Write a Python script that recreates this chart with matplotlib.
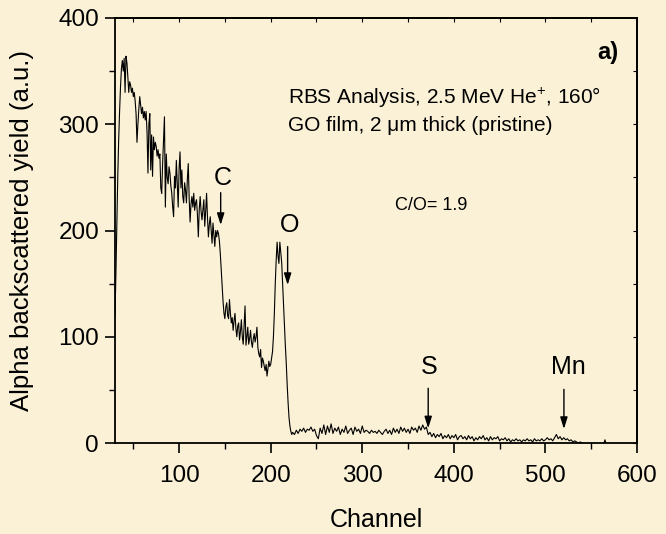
import numpy as np
import matplotlib
matplotlib.use("Agg")
import matplotlib.pyplot as plt
from matplotlib.ticker import MultipleLocator

plt.rcParams['font.family'] = ['Liberation Sans', 'DejaVu Sans']
plt.rcParams['mathtext.fontset'] = 'custom'
plt.rcParams['mathtext.rm'] = 'Liberation Sans'
plt.rcParams['mathtext.it'] = 'Liberation Sans:italic'
plt.rcParams['mathtext.bf'] = 'Liberation Sans:bold'

# ---- data: RBS spectrum (channel vs yield) ----
# channels 30..223, one value per channel
chan_low = list(range(30, 224))
yield_low = [
    120, 160, 205, 250, 285, 312, 335, 352, 360, 350,   # 30-39
    362, 330, 364, 358, 345, 330, 340, 337, 330, 334,   # 40-49
    326, 330, 322, 310, 283, 300, 314, 326, 318, 310,   # 50-59
    316, 306, 312, 304, 312, 292, 254, 300, 310, 257,   # 60-69
    290, 251, 288, 276, 283, 279, 270, 276, 268, 272,   # 70-79
    240, 235, 263, 284, 307, 222, 272, 250, 244, 260,   # 80-89
    254, 242, 235, 222, 213, 251, 240, 266, 244, 222,   # 90-99
    258, 274, 240, 257, 232, 226, 245, 238, 226, 248,   # 100-109
    263, 230, 208, 225, 232, 222, 235, 219, 226, 229,   # 110-119
    215, 194, 220, 232, 218, 210, 220, 229, 204, 218,   # 120-129
    235, 212, 194, 206, 213, 200, 188, 207, 196, 185,   # 130-139
    200, 194, 200, 197, 190, 178, 163, 147, 133, 122,   # 140-149
    117, 128, 132, 120, 117, 135, 122, 113, 118, 106,   # 150-159
    115, 122, 108, 100, 110, 113, 97, 105, 116, 100,    # 160-169
    93, 110, 129, 92, 100, 109, 93, 98, 106, 95,        # 170-179
    90, 98, 103, 95, 100, 109, 90, 84, 81, 88,          # 180-189
    71, 80, 77, 72, 68, 74, 63, 70, 77, 72,             # 190-199
    74, 80, 86, 100, 122, 150, 172, 189, 176, 169,      # 200-209
    189, 180, 170, 150, 128, 110, 92, 75, 55, 38,       # 210-219
    24, 16, 11, 8,                                      # 220-223
]
# channels 224..540, every second channel
chan_high = list(range(224, 541, 2))
yield_high = [
    10, 8, 12, 9, 13, 11, 14, 10, 13, 12,      # 224-242
    15, 11, 13, 7, 4, 14, 9, 17, 8, 16,        # 244-262
    10, 18, 9, 14, 11, 15, 8, 13, 10, 16,      # 264-282
    9, 12, 14, 8, 15, 11, 13, 9, 16, 10,       # 284-302
    12, 11, 9, 12, 10, 11, 9, 12, 10, 8,       # 304-322
    11, 13, 9, 12, 8, 14, 10, 13, 9, 15,       # 324-342
    11, 14, 10, 13, 9, 15, 12, 14, 10, 16,     # 344-362
    12, 17, 13, 15,                            # 364-370
    8, 10, 6, 9, 5, 8, 6, 9, 4, 7,             # 372-390
    5, 8, 4, 7, 5, 8, 3, 6, 7, 4,              # 392-410
    6, 3, 7, 4, 6, 2, 5, 3, 6, 4,              # 412-430
    7, 3, 5, 2, 6, 3, 5, 4, 6, 2,              # 432-450
    4, 3, 5, 2, 4, 1, 3, 2, 4, 2,              # 452-470
    3, 1, 3, 2, 4, 2, 3, 1, 4, 2,              # 472-490
    3, 2, 4, 2, 3, 5, 3, 4, 2, 5,              # 492-510
    8, 4, 6, 3, 5, 3, 4, 2, 3, 1,              # 512-530
    2, 1, 0, 1, 0,                             # 532-540
]
# isolated count near channel 565
chan_tail = [564, 565, 566]
yield_tail = [0, 3, 0]

# element markers: label, arrow channel, arrow top, arrow tip, label x, label y
elements = ["C", "O", "S", "Mn"]
elem_arrow_x = [145.4, 218.5, 372.0, 520.2]
elem_arrow_top = [235.6, 184.8, 51.5, 50.5]
elem_arrow_tip = [205.2, 148.7, 13.8, 13.2]
elem_label_x = [147.9, 221.1, 373.4, 524.7]
elem_label_y = [242.8, 198.9, 64.9, 64.9]

x_major = [100, 200, 300, 400, 500, 600]
y_major = [0, 100, 200, 300, 400]

bg = '#FAF1D7'
W, H = 666, 534
fig = plt.figure(figsize=(W / 100, H / 100), dpi=100, facecolor=bg)
ax = fig.add_axes([115 / W, 1 - 443 / H, 522 / W, 425 / H])
ax.set_facecolor(bg)

chan = np.array(chan_low + chan_high)
yld = np.array(yield_low + yield_high)
ax.plot(chan, yld, color='black', lw=0.8)
ax.plot(chan_tail, yield_tail, color='black', lw=0.8)

ax.set_xlim(30, 600)
ax.set_ylim(0, 400)
ax.set_xticks(x_major)
ax.set_yticks(y_major)
ax.xaxis.set_minor_locator(MultipleLocator(50))
ax.yaxis.set_minor_locator(MultipleLocator(50))
ax.tick_params(axis='both', which='major', direction='out', length=7, width=1.2,
               labelsize=17.5, colors='black')
ax.tick_params(axis='both', which='minor', direction='out', length=4, width=1.0)
ax.tick_params(axis='x', which='major', pad=8.5)
ax.tick_params(axis='y', which='major', pad=4.5)
for s in ax.spines.values():
    s.set_linewidth(1.3)

# mirror ticks on top / right (inward, small)
secx = ax.secondary_xaxis('top')
secx.set_xticks(x_major)
secx.xaxis.set_minor_locator(MultipleLocator(50))
secx.tick_params(which='both', direction='in', length=3, width=0.8, labeltop=False)
secx.spines['top'].set_linewidth(1.3)
secy = ax.secondary_yaxis('right')
secy.set_yticks(y_major)
secy.yaxis.set_minor_locator(MultipleLocator(50))
secy.tick_params(which='both', direction='in', length=3, width=0.8, labelright=False)
secy.spines['right'].set_linewidth(1.3)

ax.set_xlabel('Channel', fontsize=18, va='baseline')
ax.xaxis.set_label_coords(0.5, -(527 - 443) / 425)
ax.set_ylabel('Alpha backscattered yield (a.u.)', fontsize=18.5, va='baseline')
ax.yaxis.set_label_coords((29 - 115) / 522, 0.5)

ax.text(218.9, 319.1, 'RBS Analysis, 2.5 MeV He$^{+}$, 160°', fontsize=15,
        ha='left', va='baseline')
ax.text(218.9, 293.9, 'GO film, 2 \u03bcm thick (pristine)', fontsize=15,
        ha='left', va='baseline')
ax.text(335.7, 219.3, 'C/O= 1.9', fontsize=13, ha='left', va='baseline')
ax.text(579.2, 361.0, 'a)', fontsize=17, fontweight='bold', ha='right', va='baseline')

for lab, xa, yt, yb, xl, yl in zip(elements, elem_arrow_x, elem_arrow_top,
                                   elem_arrow_tip, elem_label_x, elem_label_y):
    ax.text(xl, yl, lab, fontsize=18, ha='center', va='baseline')
    ax.annotate('', xy=(xa, yb), xytext=(xa, yt),
                arrowprops=dict(arrowstyle='-|>,head_length=0.7,head_width=0.22',
                                color='black', lw=1.0, shrinkA=0, shrinkB=0))

fig.savefig('out.png', dpi=100, facecolor=bg)
